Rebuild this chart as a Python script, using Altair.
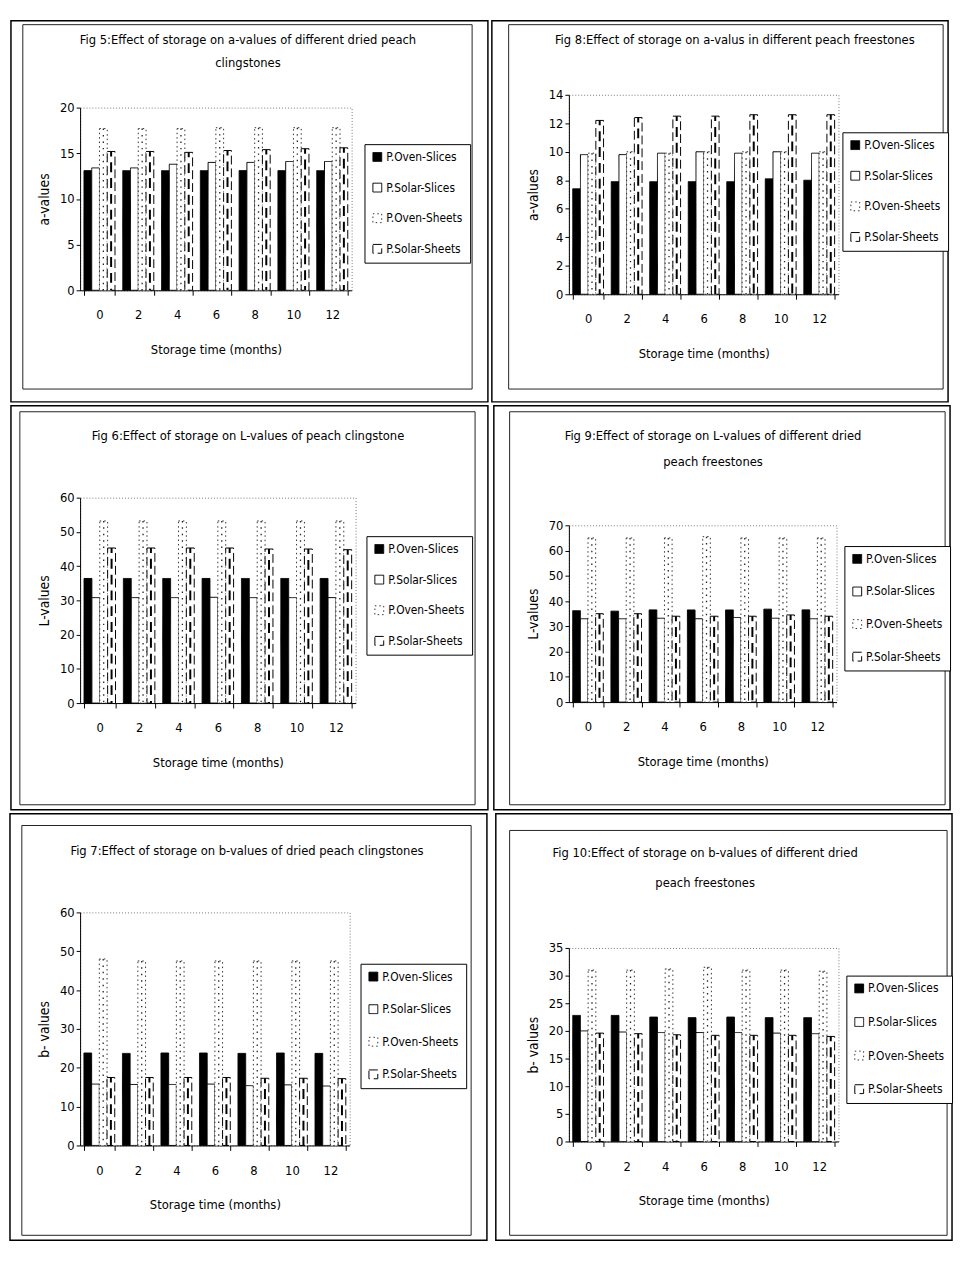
import altair as alt
import pandas as pd

MONTHS = ["0", "2", "4", "6", "8", "10", "12"]
SERIES = ["P.Oven-Slices", "P.Solar-Slices", "P.Oven-Sheets", "P.Solar-Sheets"]

# Fig 5: a-values, clingstones
fig5_oven_slices = [13.1, 13.1, 13.1, 13.1, 13.1, 13.1, 13.1]
fig5_solar_slices = [13.4, 13.4, 13.8, 14.0, 14.0, 14.1, 14.1]
fig5_oven_sheets = [17.7, 17.7, 17.7, 17.8, 17.8, 17.8, 17.8]
fig5_solar_sheets = [15.2, 15.2, 15.1, 15.3, 15.4, 15.5, 15.6]

# Fig 8: a-values, freestones
fig8_oven_slices = [7.4, 7.9, 7.9, 7.9, 7.9, 8.1, 8.0]
fig8_solar_slices = [9.8, 9.8, 9.9, 10.0, 9.9, 10.0, 9.9]
fig8_oven_sheets = [9.9, 10.0, 9.9, 10.0, 10.0, 10.0, 10.0]
fig8_solar_sheets = [12.2, 12.4, 12.5, 12.5, 12.6, 12.6, 12.6]

# Fig 6: L-values, clingstones
fig6_oven_slices = [36.4, 36.4, 36.4, 36.4, 36.4, 36.4, 36.4]
fig6_solar_slices = [30.8, 30.8, 30.8, 30.9, 30.8, 30.8, 30.8]
fig6_oven_sheets = [53.2, 53.2, 53.2, 53.2, 53.2, 53.2, 53.2]
fig6_solar_sheets = [45.3, 45.3, 45.3, 45.3, 45.0, 45.0, 44.8]

# Fig 9: L-values, freestones
fig9_oven_slices = [36.2, 36.0, 36.5, 36.5, 36.5, 36.8, 36.5]
fig9_solar_slices = [33.0, 33.0, 33.2, 33.0, 33.5, 33.2, 33.0]
fig9_oven_sheets = [65.0, 65.0, 65.0, 65.5, 65.0, 65.0, 65.0]
fig9_solar_sheets = [35.0, 35.0, 34.0, 34.0, 34.0, 34.5, 34.0]

# Fig 7: b-values, clingstones
fig7_oven_slices = [23.8, 23.7, 23.8, 23.8, 23.7, 23.8, 23.7]
fig7_solar_slices = [15.8, 15.7, 15.7, 15.8, 15.4, 15.6, 15.3]
fig7_oven_sheets = [48.0, 47.5, 47.5, 47.5, 47.5, 47.5, 47.5]
fig7_solar_sheets = [17.5, 17.5, 17.5, 17.5, 17.3, 17.3, 17.2]

# Fig 10: b-values, freestones
fig10_oven_slices = [22.8, 22.8, 22.5, 22.4, 22.5, 22.4, 22.4]
fig10_solar_slices = [20.0, 19.8, 19.7, 19.7, 19.7, 19.6, 19.5]
fig10_oven_sheets = [31.0, 31.0, 31.2, 31.5, 31.0, 31.0, 30.8]
fig10_solar_sheets = [19.6, 19.5, 19.3, 19.2, 19.2, 19.2, 19.0]

FONT = "Liberation Sans Narrow, DejaVu Sans Condensed, Arial Narrow, DejaVu Sans, sans-serif"


def panel(vals, title_lines, ytitle, ymax, ystep, g):
    rows = []
    for s, arr in zip(SERIES, vals):
        for m, v in zip(MONTHS, arr):
            rows.append({"month": m, "series": s, "value": v})
    df = pd.DataFrame(rows)
    px, py, w, h = g["plot"]
    cx0, cy0, cx1, cy1 = g["cell"]
    bx0, by0, bx1, by1 = g["box"]
    lx, ly = g["legend"]
    yvals = list(range(0, ymax + 1, ystep))

    x = alt.X(
        "month:N",
        sort=MONTHS,
        scale=alt.Scale(domain=MONTHS, paddingInner=0.2, paddingOuter=0.1),
        axis=alt.Axis(
            title="Storage time (months)", labelAngle=0, tickBand="extent",
            tickSize=5, labelPadding=14, titlePadding=22, domainColor="black",
            tickColor="black", labelFont=FONT, labelFontSize=13, labelColor="black",
            titleFont=FONT, titleFontSize=13, titleFontWeight="normal", titleColor="black",
        ),
    )
    xoff = alt.XOffset("series:N", sort=SERIES,
                       scale=alt.Scale(domain=SERIES, paddingInner=0, paddingOuter=0))
    y = alt.Y(
        "value:Q",
        scale=alt.Scale(domain=[0, ymax], nice=False),
        axis=alt.Axis(
            values=yvals, tickCount=len(yvals), title=ytitle, grid=False,
            labelOverlap=False, tickSize=4, domainColor="black", tickColor="black",
            labelFont=FONT, labelFontSize=13, labelColor="black", titleFont=FONT,
            titleFontSize=14, titleFontWeight="normal", titleColor="black",
            titlePadding=8,
        ),
    )
    legend = alt.Legend(
        title=None, orient="none", legendX=lx - px, legendY=ly - py,
        strokeColor="black", padding=7, symbolType="square", symbolSize=80,
        rowPadding=g.get("rowpad", 17), labelFont=FONT, labelFontSize=12, labelColor="black",
        labelLimit=200, labelOffset=3, fillColor="white",
    )
    base = alt.Chart(df)
    bars = base.mark_bar().encode(
        x=x, xOffset=xoff, y=y,
        fill=alt.Fill("series:N", sort=SERIES,
                      scale=alt.Scale(domain=SERIES, range=["#000000", "#ffffff", "#ffffff", "#ffffff"]),
                      legend=legend),
        stroke=alt.Stroke("series:N", sort=SERIES,
                          scale=alt.Scale(domain=SERIES, range=["#000000", "#000000", "#333333", "#000000"])),
        strokeDash=alt.StrokeDash("series:N", sort=SERIES,
                                  scale=alt.Scale(domain=SERIES, range=[[1, 0], [1, 0], [1.5, 3], [9, 4]])),
        strokeWidth=alt.StrokeWidth("series:N", sort=SERIES,
                                    scale=alt.Scale(domain=SERIES, range=[1, 1, 1.3, 2])),
    )
    inner_solar = base.transform_filter(alt.datum.series == "P.Solar-Sheets").mark_rule(
        color="black", strokeWidth=2, strokeDash=[10, 6], strokeDashOffset=5
    ).encode(x=x, xOffset=xoff, y=y, y2=alt.datum(0))
    inner_oven = base.transform_filter(alt.datum.series == "P.Oven-Sheets").mark_rule(
        color="#222222", strokeWidth=1.3, strokeDash=[1.5, 5]
    ).encode(x=x, xOffset=xoff, y=y, y2=alt.datum(0))

    one = pd.DataFrame({"k": [0]})
    outer = alt.Chart(one).mark_rect(fillOpacity=0, stroke="black", strokeWidth=1.5).encode(
        x=alt.value(cx0 - px), x2=alt.value(cx1 - px), y=alt.value(cy0 - py), y2=alt.value(cy1 - py))
    inner = alt.Chart(one).mark_rect(fillOpacity=0, stroke="#222222", strokeWidth=1).encode(
        x=alt.value(bx0 - px), x2=alt.value(bx1 - px), y=alt.value(by0 - py), y2=alt.value(by1 - py))

    # chart title lines, drawn inside the panel frame
    tcx = g["tcx"]
    title_layers = []
    for i, line in enumerate(title_lines):
        ty = g["ty"][i]
        title_layers.append(
            alt.Chart(one).mark_text(font=FONT, fontSize=13, color="black", align="center",
                                     baseline="middle").encode(
                x=alt.value(tcx - px), y=alt.value(ty - py), text=alt.value(line)))

    return alt.layer(outer, inner, bars, inner_oven, inner_solar, *title_layers).properties(
        width=w, height=h)


p5 = panel([fig5_oven_slices, fig5_solar_slices, fig5_oven_sheets, fig5_solar_sheets],
           ["Fig 5:Effect of storage on a-values of different dried peach", "clingstones"],
           "a-values", 20, 5,
           {"plot": (78, 108, 275, 185), "cell": (8, 20, 491, 406), "box": (20, 24, 475, 393),
            "legend": (366, 145), "tcx": 248, "ty": [40, 63]})
p8 = panel([fig8_oven_slices, fig8_solar_slices, fig8_oven_sheets, fig8_solar_sheets],
           ["Fig 8:Effect of storage on a-valus in different peach freestones"],
           "a-values", 14, 2,
           {"plot": (569, 95, 273, 202), "cell": (491, 20, 953, 406), "box": (508, 24, 948, 393),
            "legend": (846, 133), "tcx": 737, "ty": [40]})
p6 = panel([fig6_oven_slices, fig6_solar_slices, fig6_oven_sheets, fig6_solar_sheets],
           ["Fig 6:Effect of storage on L-values of peach clingstone"],
           "L-values", 60, 10,
           {"plot": (78, 499, 279, 208), "cell": (8, 406, 491, 815), "box": (17, 412, 478, 810),
            "legend": (368, 538), "tcx": 248, "ty": [437]})
p9 = panel([fig9_oven_slices, fig9_solar_slices, fig9_oven_sheets, fig9_solar_sheets],
           ["Fig 9:Effect of storage on L-values of different dried", "peach freestones"],
           "L-values", 70, 10,
           {"plot": (567, 527, 271, 179), "cell": (491, 406, 953, 815), "box": (507, 412, 948, 810),
            "legend": (846, 548), "tcx": 713, "ty": [437, 463], "rowpad": 19})
p7 = panel([fig7_oven_slices, fig7_solar_slices, fig7_oven_sheets, fig7_solar_sheets],
           ["Fig 7:Effect of storage on b-values of dried peach clingstones"],
           "b- values", 60, 10,
           {"plot": (79, 915, 273, 236), "cell": (8, 815, 491, 1247), "box": (20, 827, 475, 1242),
            "legend": (363, 967), "tcx": 248, "ty": [853], "rowpad": 19})
p10 = panel([fig10_oven_slices, fig10_solar_slices, fig10_oven_sheets, fig10_solar_sheets],
            ["Fig 10:Effect of storage on b-values of different dried", "peach freestones"],
            "b- values", 35, 5,
            {"plot": (565, 951, 273, 196), "cell": (491, 815, 953, 1247), "box": (505, 832, 948, 1242),
             "legend": (846, 979), "tcx": 703, "ty": [855, 885], "rowpad": 20})


def spacer():
    # invisible 1px chart so that both columns start from the same top edge
    return alt.Chart(pd.DataFrame({"k": [0]})).mark_point(opacity=0, size=1).encode(
        x=alt.value(0), y=alt.value(0)).properties(
        width=1, height=1, view=alt.ViewBackground(stroke="transparent"))


RES = dict(fill="independent", stroke="independent", strokeDash="independent",
           strokeWidth="independent", xOffset="independent", y="independent", x="independent")
LRES = dict(fill="independent", stroke="independent", strokeDash="independent",
            strokeWidth="independent")


def column(a, b, c):
    return alt.vconcat(spacer(), a, b, c, spacing=0).resolve_scale(**RES).resolve_legend(**LRES)


chart = alt.hconcat(column(p5, p6, p7), column(p8, p9, p10), spacing=0).resolve_scale(
    **RES).resolve_legend(**LRES).properties(padding=0, background="white").configure_view(
    stroke="#777777", strokeDash=[1, 2], strokeWidth=1)

chart.save("out.html", embed_options={"renderer": "svg", "actions": False})
